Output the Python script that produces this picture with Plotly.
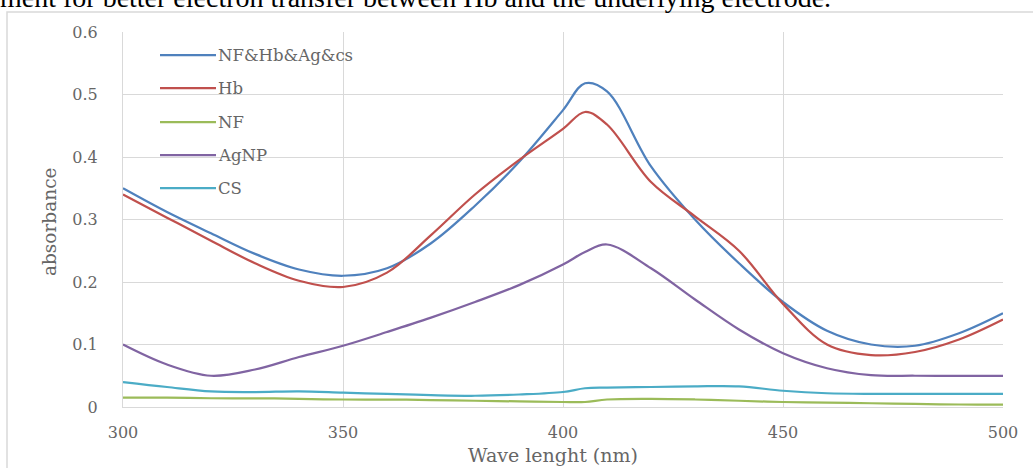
import plotly.graph_objects as go

# Wavelength grid (nm)
wavelength = [300, 310, 320, 330, 340, 350, 360, 370, 380, 390, 400, 405, 410, 420, 430, 440, 450, 460, 470, 480, 490, 500]

nf_hb_ag_cs = [0.350, 0.312, 0.278, 0.245, 0.220, 0.210, 0.222, 0.262, 0.322, 0.392, 0.475, 0.518, 0.505, 0.385, 0.300, 0.230, 0.168, 0.122, 0.100, 0.098, 0.118, 0.150]
hb          = [0.340, 0.303, 0.266, 0.230, 0.202, 0.192, 0.215, 0.275, 0.340, 0.395, 0.445, 0.472, 0.452, 0.360, 0.305, 0.250, 0.165, 0.100, 0.083, 0.088, 0.108, 0.140]
nf          = [0.015, 0.015, 0.014, 0.014, 0.013, 0.012, 0.012, 0.011, 0.010, 0.009, 0.008, 0.008, 0.012, 0.013, 0.012, 0.010, 0.008, 0.007, 0.006, 0.005, 0.004, 0.004]
agnp        = [0.100, 0.068, 0.050, 0.060, 0.080, 0.098, 0.120, 0.143, 0.168, 0.195, 0.228, 0.248, 0.260, 0.222, 0.172, 0.124, 0.086, 0.062, 0.051, 0.050, 0.050, 0.050]
cs          = [0.040, 0.032, 0.025, 0.024, 0.025, 0.023, 0.021, 0.019, 0.018, 0.020, 0.024, 0.030, 0.031, 0.032, 0.033, 0.033, 0.026, 0.022, 0.021, 0.021, 0.021, 0.021]

series_names = ["NF&Hb&Ag&cs", "Hb", "NF", "AgNP", "CS"]
series_values = [nf_hb_ag_cs, hb, nf, agnp, cs]
series_colors = ["#4F81BD", "#C0504D", "#9BBB59", "#8064A2", "#4BACC6"]

x_ticks = [300, 350, 400, 450, 500]
y_ticks = [0, 0.1, 0.2, 0.3, 0.4, 0.5, 0.6]
y_tick_labels = ["0", "0.1", "0.2", "0.3", "0.4", "0.5", "0.6"]

x_title = "Wave lenght (nm)"
y_title = "absorbance"
caption = "ment for better electron transfer between Hb and the underlying electrode."

W, H = 1033, 468
L, R, T, B = 123, 30, 32, 61
PW, PH = W - L - R, H - T - B

def px_x(p):
    return (p - L) / PW

def px_y(p):
    return (H - B - p) / PH

font_fam = "DejaVu Serif, serif"
gray = "#666666"

fig = go.Figure()
for name, vals, col in zip(series_names, series_values, series_colors):
    fig.add_trace(go.Scatter(x=wavelength, y=vals, mode="lines", name=name,
                             line=dict(color=col, width=2.25, shape="spline", smoothing=1.0),
                             showlegend=False))

shapes = []
annotations = []
# chart frame
shapes.append(dict(type="rect", xref="paper", yref="paper",
                   x0=px_x(7), x1=px_x(1040), y0=px_y(480), y1=px_y(12),
                   line=dict(color="#d9d9d9", width=1.5), layer="below"))

# manual legend
leg_y = [55, 88, 122, 155, 188]
for name, col, yy in zip(series_names, series_colors, leg_y):
    shapes.append(dict(type="line", xref="paper", yref="paper",
                       x0=px_x(160), x1=px_x(216), y0=px_y(yy), y1=px_y(yy),
                       line=dict(color=col, width=2.25)))
    annotations.append(dict(text=name, xref="paper", yref="paper", x=px_x(216), y=px_y(yy),
                            xanchor="left", yanchor="middle", showarrow=False,
                            font=dict(family=font_fam, size=16.5, color=gray)))

# axis titles
annotations.append(dict(text=x_title, xref="paper", yref="paper", x=px_x(553), y=px_y(455),
                        xanchor="center", yanchor="middle", showarrow=False,
                        font=dict(family=font_fam, size=19, color=gray)))
annotations.append(dict(text=y_title, xref="paper", yref="paper", x=px_x(50), y=px_y(222),
                        xanchor="center", yanchor="middle", showarrow=False, textangle=-90,
                        font=dict(family=font_fam, size=18.5, color=gray)))

# caption line cut at the top
annotations.append(dict(text=caption, xref="paper", yref="paper", x=px_x(-2), y=px_y(15),
                        xanchor="left", yanchor="bottom", showarrow=False,
                        font=dict(family="Liberation Serif, Times New Roman, serif", size=28, color="black")))

fig.update_layout(
    width=W, height=H,
    margin=dict(l=L, r=R, t=T, b=B, autoexpand=False),
    paper_bgcolor="white", plot_bgcolor="white",
    shapes=shapes, annotations=annotations,
    xaxis=dict(range=[300, 500], tickvals=x_ticks, showgrid=True, gridcolor="#d9d9d9", gridwidth=1,
               zeroline=False, showline=True, linecolor="#d9d9d9", linewidth=1, automargin=False,
               ticks="outside", ticklen=11, tickcolor="rgba(0,0,0,0)",
               tickfont=dict(family=font_fam, size=16, color=gray)),
    yaxis=dict(range=[0, 0.6], tickvals=y_ticks, ticktext=y_tick_labels, showgrid=True, gridcolor="#d9d9d9",
               gridwidth=1, zeroline=False, showline=True, linecolor="#d9d9d9", linewidth=1, automargin=False,
               ticks="outside", ticklen=21, tickcolor="rgba(0,0,0,0)",
               tickfont=dict(family=font_fam, size=16, color=gray)),
)

fig.write_html("out.html", config={"displayModeBar": False},
               post_script="document.body.style.margin='0';")
